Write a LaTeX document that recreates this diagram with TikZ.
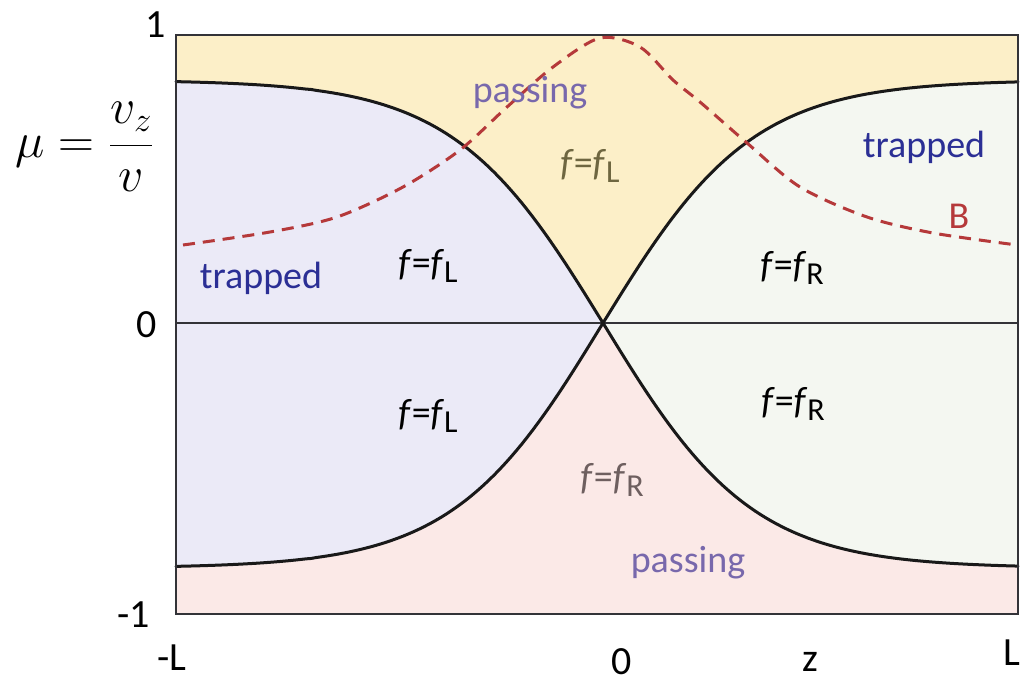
\documentclass[tikz,border=0pt]{standalone}
\usepackage{fontspec}
\setmainfont{Carlito}
\definecolor{topc}{HTML}{FCEFC8}
\definecolor{leftc}{HTML}{EBEAF7}
\definecolor{rightc}{HTML}{F4F7F1}
\definecolor{botc}{HTML}{FBE9E7}
\definecolor{passc}{HTML}{7868AC}
\definecolor{trapc}{HTML}{2B2F95}
\definecolor{bc}{HTML}{B5393A}
\definecolor{olivec}{HTML}{6E6640}
\definecolor{brownc}{HTML}{6E5F5F}
\definecolor{linec}{HTML}{333338}
\newcommand\ffsub[1]{\textit{f}=\textit{f}\raisebox{-0.2em}{\fontsize{16}{16}\selectfont #1}}
\begin{document}
\begin{tikzpicture}[x=0.5pt,y=-0.5pt,
  lbl/.style={inner sep=0pt, font=\fontsize{19}{22}\selectfont},
  axl/.style={inner sep=0pt, font=\fontsize{20}{24}\selectfont},
  sepline/.style={line width=1.5pt, draw=black!90, line join=round, line cap=round},
  frame/.style={line width=1pt, draw=linec},
  bline/.style={line width=1.5pt, draw=bc, dash pattern=on 6pt off 4pt}]
\useasboundingbox (0,0) rectangle (1020,685);
% regions
\fill[topc] (176,35) rectangle (1018,614);
\fill[leftc] plot[domain=427:0, samples=80] ({603-\x},{323-243*tanh(\x/150)})
  -- plot[domain=0:427, samples=80] ({603-\x},{323+245*tanh(\x/150)}) -- cycle;
\fill[rightc] plot[domain=0:415, samples=80] ({603+\x},{323-243*tanh(\x/150)})
  -- plot[domain=415:0, samples=80] ({603+\x},{323+245*tanh(\x/150)}) -- cycle;
\fill[botc] plot[domain=427:0, samples=80] ({603-\x},{323+245*tanh(\x/150)})
  -- plot[domain=0:415, samples=80] ({603+\x},{323+245*tanh(\x/150)})
  -- (1018,614) -- (176,614) -- cycle;
% zero line
\coordinate (zl) at (176,323);
\coordinate (zr) at (1018,323);
\draw[frame] (zl) -- (zr);
% separatrices
\draw[sepline] plot[domain=0:427, samples=80] ({603-\x},{323-243*tanh(\x/150)});
\draw[sepline] plot[domain=0:415, samples=80] ({603+\x},{323-243*tanh(\x/150)});
\draw[sepline] plot[domain=0:427, samples=80] ({603-\x},{323+245*tanh(\x/150)});
\draw[sepline] plot[domain=0:415, samples=80] ({603+\x},{323+245*tanh(\x/150)});
% frame
\draw[frame] (176,35) rectangle (1018,614);
% B curve
\draw[bline] plot[smooth] coordinates {(183,245) (270,232) (337,217) (403,187) (460,150) (507,107) (553,67) (600,38) (640,47) (673,80) (700,102) (747,143) (800,187) (867,217) (933,233) (1017,245)};
% labels
\node[lbl, text=passc] (p1) at (530,93) {passing};
\node[lbl, text=passc] (p2) at (688,563) {passing};
\node[lbl, text=trapc] (t1) at (261,278) {trapped};
\node[lbl, text=trapc] (t2) at (924,147) {trapped};
\node[lbl, text=bc] (bl) at (959,216) {B};
\node[lbl, text=olivec] (f1) at (590,166) {\ffsub{L}};
\node[lbl] (f2) at (428,266) {\ffsub{L}};
\node[lbl] (f3) at (428,416) {\ffsub{L}};
\node[lbl] (f4) at (792,268) {\ffsub{R}};
\node[lbl] (f5) at (793,404) {\ffsub{R}};
\node[lbl, text=brownc] (f6) at (612,480) {\ffsub{R}};
% axis labels
\node[axl] (y1) at (156,25) {1};
\node[axl] (y0) at (147,325) {0};
\node[axl] (ym) at (134,615) {-1};
\node[axl] (xm) at (172,658) {-L};
\node[axl] (x0) at (622,662) {0};
\node[axl] (xz) at (810,662) {z};
\node[axl] (xl) at (1012,653) {L};
\node[inner sep=0pt, font=\fontsize{24}{28}\selectfont] (mu) at (85,147) {$\displaystyle \mu=\frac{v_z}{v}$};
\end{tikzpicture}
\end{document}
